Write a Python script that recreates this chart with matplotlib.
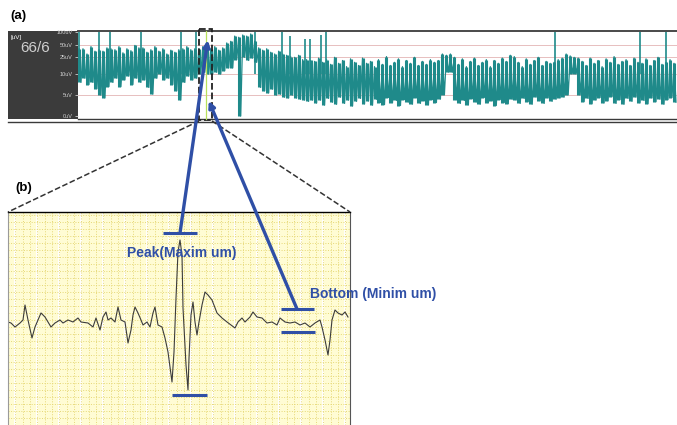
import numpy as np
import matplotlib.pyplot as plt
from matplotlib.patches import Rectangle, ConnectionPatch

W, H = 677, 425

# (a) aEEG trend: band top / bottom per column (uV)
a_upper = [40, 40, 30, 45, 35, 38, 35, 42, 40, 38, 45, 32, 40, 36, 48, 42, 42, 33, 38, 45,
           35, 40, 30, 37, 33, 38, 40, 45, 38, 40, 40, 45, 42, 40, 45, 37, 42, 55, 60, 80,
           75, 85, 80, 90, 60, 42, 37, 40, 33, 30, 35, 30, 28, 26, 25, 28, 22, 22, 21,
           20, 24, 19, 22, 17, 25, 18, 21, 15, 23, 19, 16, 24, 18, 20, 15, 22, 17, 26, 16,
           19, 23, 15, 21, 18, 25, 16, 20, 17, 22, 19,
           21, 30, 28, 30, 25,
           17, 23, 15, 20, 24, 16, 19, 22, 15, 21, 18, 24, 20,
           28, 26,
           19, 15, 23, 17, 21, 25, 16, 20, 18,
           19, 22, 24, 30, 27, 25, 24,
           20, 16, 24, 18, 21, 15, 23, 19, 26, 17, 20, 22, 16, 24, 19, 18, 23, 16, 21, 25,
           17, 19, 22, 18]
a_lower = [8, 9, 7.5, 8, 6.5, 5, 4.3, 7, 8, 9, 7, 8.6, 9.5, 7.5, 9, 8, 8.6, 6.8, 5.2, 9,
           10, 8.6, 9, 7.5, 6, 3.8, 8, 9.5, 8.6, 9, 10, 11, 10, 10, 11, 10, 12, 14, 14, 22,
           0, 25, 21, 24, 19, 6.8, 6, 5.5, 6.4, 5, 5.2, 4.5, 4.3, 5, 4.3, 4, 3.8, 3.5, 3.8,
           3.1, 3.8, 2.6, 4.2, 3.3, 2.8, 4.5, 3.0, 3.8, 2.4, 3.5, 4.2, 2.9, 3.6, 2.6, 4.0,
           3.2, 2.7, 4.4, 3.1, 3.7, 2.5, 3.9, 3.3, 2.8, 4.3, 3.0, 3.6, 2.6, 3.9, 3.2,
           4, 5, 11, 11, 3.8,
           3.0, 3.7, 2.6, 4.1, 3.3, 2.8, 4.4, 3.1, 3.6, 2.5, 3.9, 3.2, 2.9,
           4, 3.8,
           3.0, 4.2, 3.4, 2.8, 4.5, 3.6, 3.0, 4.3, 3.5,
           4, 4.3, 4.5, 5, 10, 10, 5,
           3.4, 4.2, 2.9, 3.8, 4.4, 3.1, 3.6, 4.6, 3.0, 3.9, 2.8, 4.2, 3.5, 4.5, 3.1, 3.7,
           2.9, 4.3, 3.4, 4.0, 2.8, 3.9, 4.4, 3.3]
spike_pos = [0, 5, 7.75, 15.5, 25.5, 29.25, 44, 50.75, 52.75, 56.5, 57.75, 60.5, 61.75, 119.1, 140.5, 147]
spike_top = [100, 100, 100, 100, 100, 100, 100, 100, 80, 70, 70, 85, 100, 100, 100, 100]
a_ticks = [0, 5, 10, 25, 50, 100]
a_ticklabels = ['0uV', '5uV', '10uV', '25uV', '50uV', '100uV']
a_grid = [5, 10, 25, 50]

# (b) raw EEG excerpt
b_x = [0, 3, 7, 12, 15, 17, 20, 24, 27, 30, 33, 37, 40, 43, 47, 52, 55, 60, 65, 70,
       73, 80, 85, 88, 92, 95, 98, 100, 103, 107, 110, 113, 117, 120, 123, 125, 127, 130, 133, 135,
       139, 142, 145, 147, 150, 154, 157, 160, 164, 166, 168, 170, 172, 174, 175, 178, 180, 181, 183, 185,
       187, 189, 191, 194, 197, 200, 204, 209, 214, 219, 227, 230, 234, 237, 242, 245, 249, 254, 259, 264,
       269, 272, 277, 282, 287, 292, 297, 302, 307, 312, 314, 317, 320, 322, 324, 327, 330, 334, 337, 340]
b_v = [1, 0, -4, 0, 3, 18, 3, -15, -4, 3, 10, 6, 1, -4, 0, 3, 0, 3, 1, 5,
       1, 0, -4, 5, -7, 6, 11, 3, 5, 1, 16, 3, 1, -20, -7, 8, 16, 10, 3, -2,
       1, -4, 10, 16, -2, -4, -15, -29, -59, -29, 25, 71, 83, 68, 15, -42, -67, -35, 8, 21,
       1, -12, 1, 18, 31, 28, 23, 10, 5, 1, -5, 1, 5, 1, 6, 11, 6, 5, 0, 1,
       -2, 5, 1, 0, 1, -2, 0, -4, 0, 3, -4, -17, -32, -17, 3, 13, 10, 8, 11, 6]

teal = '#1f8a8a'
blue = '#2f4fa6'


def px_axes(fig, x0, y0, x1, y1, **kw):
    return fig.add_axes([x0 / W, 1 - y1 / H, (x1 - x0) / W, (y1 - y0) / H], **kw)


def fwd(v):
    v = np.asarray(v, float)
    return np.where(v <= 10, v / 10, np.log10(np.maximum(v, 10)))


def inv(u):
    u = np.asarray(u, float)
    return np.where(u <= 1, u * 10, 10 ** u)


fig = plt.figure(figsize=(W / 100, H / 100), dpi=100)
plt.rcParams['font.family'] = ['Liberation Sans', 'DejaVu Sans']

# dark label block of the trend display
ax_lab = px_axes(fig, 8, 31, 78, 119, zorder=1)
ax_lab.set_facecolor('#3b3b3b')
ax_lab.set_xticks([])
ax_lab.set_yticks([])
for s in ax_lab.spines.values():
    s.set_visible(False)
ax_lab.text(0.03, 0.93, '[uV]', color='white', fontsize=4.5, transform=ax_lab.transAxes, va='center')
ax_lab.text(0.17, 0.81, '66/6', color='#cfcfcf', fontsize=11, transform=ax_lab.transAxes, va='center')

# (a) trend
ax_a = px_axes(fig, 78, 31, 677, 119, zorder=2)
ax_a.set_yscale('function', functions=(fwd, inv))
xs = np.arange(len(a_upper))
ax_a.vlines(xs, a_lower, a_upper, color=teal, lw=2.2)
zz_x = np.column_stack([xs, xs + 0.5]).ravel()
zz_y = np.column_stack([a_upper, a_lower]).ravel()
ax_a.plot(zz_x, zz_y, color=teal, lw=0.9)
ax_a.vlines(spike_pos, 10, spike_top, color=teal, lw=1.2)
for g in a_grid:
    ax_a.axhline(g, color='#e3b4b4', lw=0.6, zorder=0)
ax_a.set_xlim(-0.25, 149.75)
ax_a.set_ylim(-0.71, 105.7)
ax_a.set_xticks([])
ax_a.set_yticks(a_ticks)
ax_a.set_yticklabels(a_ticklabels)
ax_a.tick_params(axis='y', colors='#d0d0d0', labelsize=4, length=2.5, width=0.6, pad=1.5)
ax_a.yaxis.set_minor_locator(plt.NullLocator())
ax_a.spines['left'].set_visible(False)
ax_a.spines['right'].set_visible(False)
ax_a.spines['top'].set_color('#3a3a3a')
ax_a.spines['top'].set_linewidth(1.3)
ax_a.spines['bottom'].set_color('#3a3a3a')
ax_a.spines['bottom'].set_linewidth(1.0)

# (b) EEG excerpt
ax_b = px_axes(fig, 8, 212, 350, 425, zorder=2)
ax_b.set_facecolor('#fffcd4')
ax_b.set_xlim(0, 342)
ax_b.set_ylim(-102, 111)
ax_b.set_xticks(np.arange(7, 342, 22))
ax_b.set_xticks(np.arange(0, 342, 7.33), minor=True)
ax_b.set_yticks(np.arange(-102, 111, 7), minor=True)
ax_b.set_yticks([])
ax_b.grid(which='minor', color='#e6d876', lw=0.7, ls=':')
ax_b.grid(which='major', axis='x', color='white', lw=1.4)
ax_b.tick_params(which='both', length=0, labelbottom=False, labelleft=False)
ax_b.plot(b_x, b_v, color='#3c3c3c', lw=0.8)
ax_b.spines['bottom'].set_visible(False)
ax_b.spines['top'].set_linewidth(1.0)
ax_b.spines['left'].set_color('#9a9a9a')
ax_b.spines['right'].set_color('#555555')
ax_b.spines['right'].set_linewidth(0.8)

# peak / bottom markers
for (x0, x1, y) in [(155, 189, 90), (164, 199, -72), (273, 306, 14), (273, 307, -9)]:
    ax_b.plot([x0, x1], [y, y], color=blue, lw=2.2, solid_capstyle='butt', clip_on=False)

# overlay in pixel coordinates
ax_o = fig.add_axes([0, 0, 1, 1], zorder=5)
ax_o.set_xlim(0, W)
ax_o.set_ylim(H, 0)
ax_o.axis('off')
ax_o.plot([8, 677], [122, 122], color='#3a3a3a', lw=1.0)
ax_o.plot([206, 206], [31, 119], color='#b8e05c', lw=0.9)
ax_o.add_patch(Rectangle((199, 29), 13, 91, fill=False, ls='--', lw=1.3, ec='#222222'))
ax_o.plot([199, 8], [121, 212], ls='--', lw=1.1, color='#333333')
ax_o.plot([212, 350], [121, 212], ls='--', lw=1.1, color='#333333')
ax_o.text(10, 16, '(a)', fontsize=9.5, fontweight='bold', va='center')
ax_o.text(15, 188, '(b)', fontsize=9.5, fontweight='bold', va='center')
ax_o.text(182, 253, 'Peak(Maxim um)', fontsize=10, fontweight='bold', color=blue,
          ha='center', va='center')
ax_o.text(373, 294, 'Bottom (Minim um)', fontsize=10, fontweight='bold', color=blue,
          ha='center', va='center')

for xyA, xyB in [((172, 90), (32.25, 64)), ((289, 14), (32.5, 3.6))]:
    con = ConnectionPatch(xyA=xyA, coordsA=ax_b.transData, xyB=xyB, coordsB=ax_a.transData,
                          arrowstyle='-|>', mutation_scale=9, lw=2.4, color=blue, zorder=6)
    fig.add_artist(con)

fig.savefig('out.png', dpi=100)
